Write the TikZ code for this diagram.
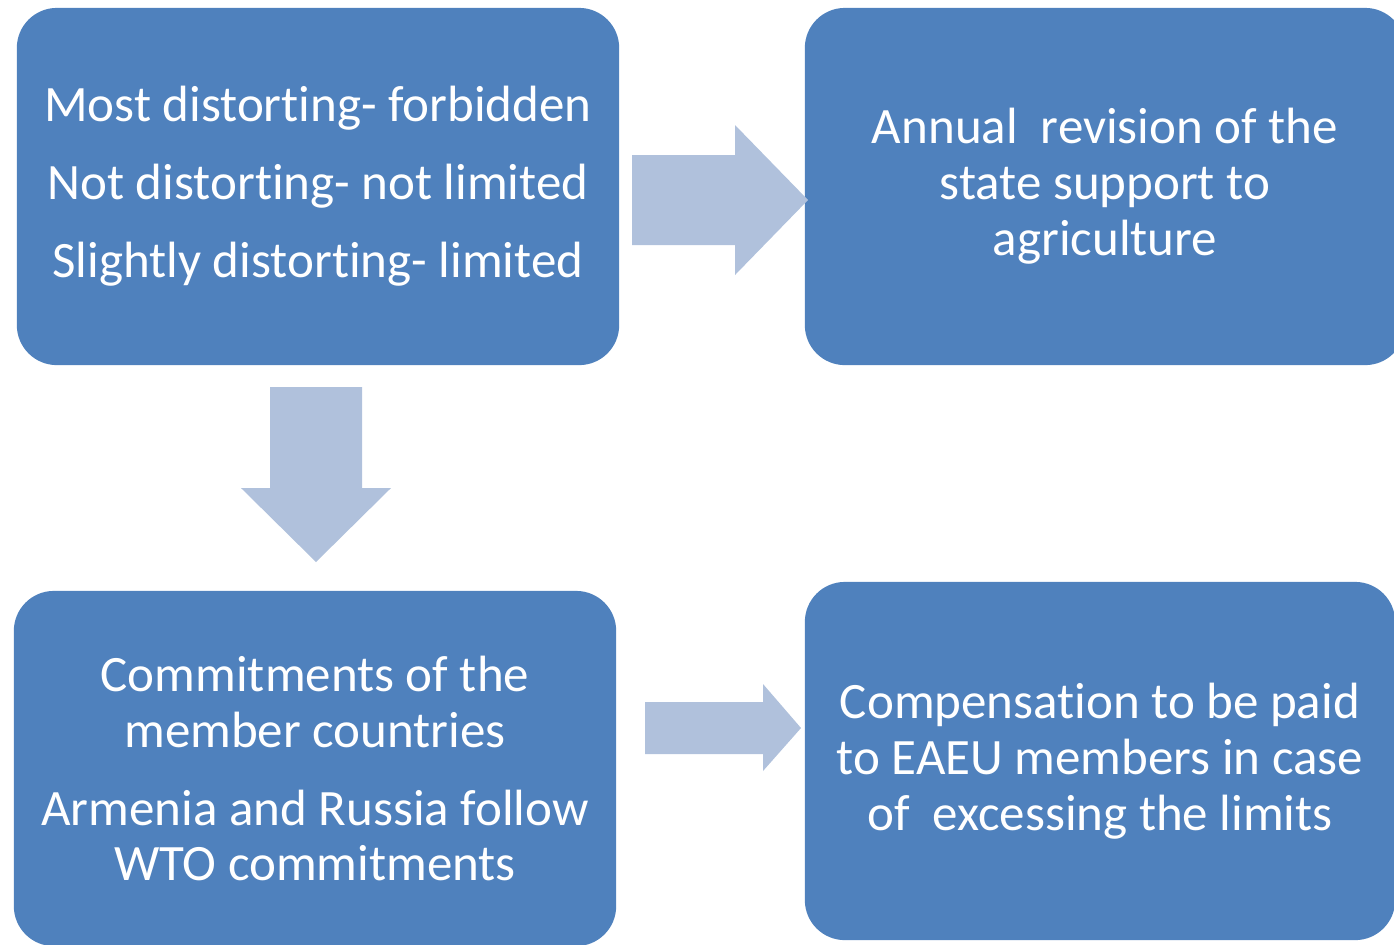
\documentclass[tikz,border=0pt]{standalone}
\usepackage{fontspec}
\setmainfont{Carlito}[RawFeature=-liga]
\usetikzlibrary{positioning}
\definecolor{boxblue}{RGB}{79,129,189}
\definecolor{arrowblue}{RGB}{176,193,220}

\begin{document}
\begin{tikzpicture}[
    x=0.01cm, y=-0.01cm,
    stage/.style={fill=boxblue, rounded corners=0.4cm, minimum width=6.02cm, minimum height=3.57cm,
                  text=white, align=center, inner sep=0pt,
                  font=\fontsize{14.5pt}{15.9pt}\selectfont},
    blockarrow/.style={fill=arrowblue},
]
\useasboundingbox (0,0) rectangle (1394,944);

% Four stages
\node[stage] (rules) at (318,186.5) {Most distorting- forbidden\\[6.3pt]
                                     Not distorting- not limited\\[6.3pt]
                                     Slightly distorting- limited};
\node[stage, minimum width=6.00cm] (revision) at (1105,186.5)
      {Annual\ \ revision of the\\state support to\\agriculture};
\node[stage, minimum height=3.55cm] (commit) at (315,768.5)
      {Commitments of the\\member countries\\[6.3pt]
       Armenia and Russia follow\\WTO commitments};
\node[stage, minimum width=5.90cm, minimum height=3.58cm] (comp) at (1100,761)
      {Compensation to be paid\\to EAEU members in case\\of\ \ excessing the limits};

% Block arrows between stages
\fill[blockarrow] (632,155) -- (735,155) -- (735,125) -- (808,200)
                  -- (735,275) -- (735,245) -- (632,245) -- cycle;
\fill[blockarrow] (270,387) -- (362,387) -- (362,488) -- (391,488)
                  -- (316,562) -- (241,488) -- (270,488) -- cycle;
\fill[blockarrow] (645,702) -- (763,702) -- (763,684) -- (801,728)
                  -- (763,771) -- (763,754) -- (645,754) -- cycle;

\end{tikzpicture}
\end{document}
